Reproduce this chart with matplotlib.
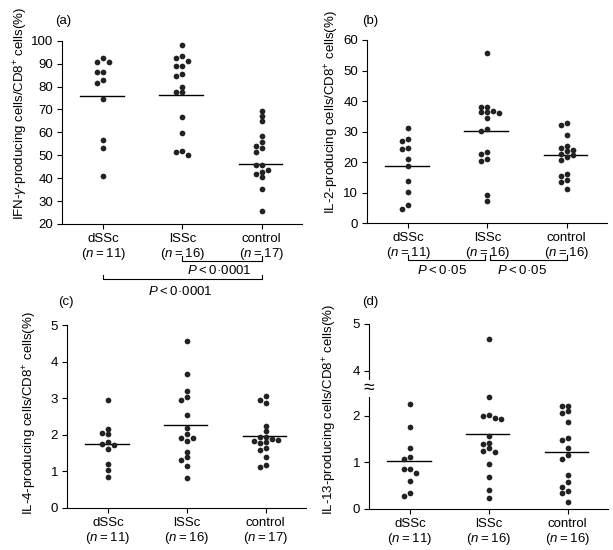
import matplotlib.pyplot as plt

plt.rcParams['font.family'] = ['Liberation Sans', 'DejaVu Sans']
plt.rcParams['mathtext.fontset'] = 'custom'
plt.rcParams['mathtext.rm'] = 'Liberation Sans'
plt.rcParams['mathtext.it'] = 'Liberation Sans:italic'
plt.rcParams['font.size'] = 9

groups = ['dSSc', 'lSSc', 'control']

# (a) IFN-gamma
ifn_dssc = [92.4, 90.8, 90.5, 86.5, 86.5, 82.7, 81.4, 74.5, 56.8, 53.2, 41.1]
ifn_lssc = [98.1, 93.2, 92.4, 91.1, 89.1, 88.9, 85.6, 84.7, 79.9, 77.5, 77.5,
            66.8, 59.7, 52.0, 51.6, 50.0]
ifn_ctrl = [69.5, 67.0, 64.8, 58.3, 55.6, 54.0, 53.0, 51.6, 45.6, 45.6, 43.5,
            42.8, 41.7, 40.5, 35.3, 25.7]
ifn_median = [75.7, 76.1, 46.0]
ifn_n = [11, 16, 17]

# (b) IL-2
il2_dssc = [31.2, 27.6, 27.0, 24.7, 24.3, 21.1, 18.7, 13.9, 10.2, 5.9, 4.6]
il2_lssc = [55.8, 38.0, 38.0, 36.6, 36.3, 36.3, 36.1, 34.3, 30.8, 30.3, 23.3,
            22.7, 21.1, 20.4, 9.1, 7.3]
il2_ctrl = [32.9, 32.2, 28.8, 25.3, 24.6, 24.0, 23.6, 22.6, 22.2, 21.5, 20.7,
            16.2, 15.5, 14.1, 13.4, 11.3]
il2_median = [18.7, 30.1, 22.2]
il2_n = [11, 16, 16]

# (c) IL-4
il4_dssc = [2.94, 2.15, 2.05, 2.01, 1.80, 1.74, 1.71, 1.61, 1.21, 1.03, 0.86]
il4_lssc = [4.56, 3.67, 3.19, 3.04, 2.95, 2.53, 2.19, 2.01, 1.92, 1.92, 1.84,
            1.54, 1.40, 1.32, 1.15, 0.81]
il4_ctrl = [3.05, 2.94, 2.87, 2.25, 2.10, 1.95, 1.95, 1.89, 1.87, 1.82, 1.80,
            1.78, 1.63, 1.58, 1.38, 1.17, 1.11]
il4_median = [1.75, 2.26, 1.96]
il4_n = [11, 16, 17]

# (d) IL-13 (broken axis)
il13_dssc = [2.25, 1.76, 1.31, 1.12, 1.06, 0.86, 0.86, 0.77, 0.59, 0.33, 0.28]
il13_lssc = [4.68, 2.40, 2.01, 1.99, 1.96, 1.94, 1.57, 1.42, 1.40, 1.30, 1.25,
             1.22, 0.97, 0.68, 0.40, 0.24]
il13_ctrl = [2.22, 2.20, 2.11, 2.06, 1.87, 1.52, 1.47, 1.31, 1.15, 1.06, 0.73,
             0.57, 0.47, 0.38, 0.33, 0.14]
il13_median = [1.02, 1.60, 1.23]
il13_n = [11, 16, 16]

DOT = '#222222'
LANE = 0.076
XLIM = (0.48, 3.51)
TS = '\u2009'  # thin space


def swarm(values, gap):
    placed = []
    lanes = []
    for v in sorted(values, reverse=True):
        for lane in (0, -1, 1, 2, -2, 3, -3):
            if all(abs(v - pv) >= gap for pv, pl in placed if pl == lane):
                break
        placed.append((v, lane))
        lanes.append(lane)
    return sorted(values, reverse=True), lanes


def draw_group(ax, x, values, gap, upper=None, split=None):
    vals, lanes = swarm(values, gap)
    for v, lane in zip(vals, lanes):
        target = ax
        if upper is not None and v > split:
            target = upper
        target.scatter(x + LANE * lane, v, s=17, color=DOT, linewidths=0,
                       zorder=3, clip_on=False)


def draw_median(ax, x, m):
    ax.plot([x - 0.29, x + 0.26], [m, m], color='black', lw=1.0)


def style(ax, ns, ylim, yticks):
    for s in ('top', 'right'):
        ax.spines[s].set_visible(False)
    for s in ('left', 'bottom'):
        ax.spines[s].set_linewidth(0.8)
    ax.set_xlim(*XLIM)
    ax.set_ylim(*ylim)
    ax.set_yticks(yticks)
    ax.set_xticks([1, 2, 3])
    ax.set_xticklabels([f'{g}\n($n${TS}={TS}{n})' for g, n in zip(groups, ns)],
                       linespacing=1.1)
    ax.tick_params(direction='out', length=3.5, width=0.8, pad=3,
                   labelsize=9.5)


def bracket(ax, x0, x1, y, h):
    ax.plot([x0, x0, x1, x1], [y + h, y, y, y + h], color='black', lw=0.8,
            transform=ax.get_xaxis_transform(), clip_on=False)


def pixel_gap(ax_h_px, ylim, px=5.0):
    return px * (ylim[1] - ylim[0]) / ax_h_px


fig = plt.figure(figsize=(6.13, 5.5), dpi=100)
W, H = 613.0, 550.0


def rect(left, right, top, bottom):
    return [left / W, 1 - bottom / H, (right - left) / W, (bottom - top) / H]


panels = [
    (rect(62, 302, 40.7, 224), (ifn_dssc, ifn_lssc, ifn_ctrl), ifn_median,
     ifn_n, (20, 100), range(20, 101, 10),
     r'IFN-$\gamma$-producing cells/CD8$^{+}$ cells(%)', (-0.169, 0.606)),
    (rect(367, 607, 40, 223), (il2_dssc, il2_lssc, il2_ctrl), il2_median,
     il2_n, (0, 60), range(0, 61, 10),
     r'IL-2-producing cells/CD8$^{+}$ cells(%)', (-0.148, 0.607)),
    (rect(67, 306, 325, 508), (il4_dssc, il4_lssc, il4_ctrl), il4_median,
     il4_n, (0, 5), range(0, 6),
     r'IL-4-producing cells/CD8$^{+}$ cells(%)', (-0.155, 0.52)),
]

axes = []
for r, data, med, ns, ylim, yt, ylab, lc in panels:
    ax = fig.add_axes(r)
    style(ax, ns, ylim, list(yt))
    gap = pixel_gap(r[3] * H, ylim)
    for i, vals in enumerate(data):
        draw_group(ax, i + 1, vals, gap)
        draw_median(ax, i + 1, med[i])
    ax.set_ylabel(ylab, fontsize=9.5, va='center')
    ax.yaxis.set_label_coords(*lc)
    axes.append(ax)

ax_a, ax_b, ax_c = axes

# (d) broken axis: lower 0-2.59, upper 3.62-5
lo_lim = (0, 2.59)
hi_lim = (3.62, 5)
r_lo = rect(369, 608, 388.3, 508.7)
r_hi = rect(369, 608, 324, 388.3)
ax_d = fig.add_axes(r_lo)
ax_dh = fig.add_axes(r_hi)
style(ax_d, il13_n, lo_lim, [0, 1, 2])
ax_d.spines['top'].set_visible(False)
for s in ('top', 'right', 'bottom'):
    ax_dh.spines[s].set_visible(False)
ax_dh.spines['left'].set_linewidth(0.8)
ax_dh.set_xlim(*XLIM)
ax_dh.set_ylim(*hi_lim)
ax_dh.set_yticks([4, 5])
ax_dh.set_xticks([])
ax_dh.tick_params(direction='out', length=3.5, width=0.8, pad=3,
                  labelsize=9.5)
ax_dh.patch.set_visible(False)
gap_d = pixel_gap(r_lo[3] * H, lo_lim)
for i, vals in enumerate((il13_dssc, il13_lssc, il13_ctrl)):
    draw_group(ax_d, i + 1, vals, gap_d, upper=ax_dh, split=3.0)
    draw_median(ax_d, i + 1, il13_median[i])
ax_d.set_ylabel(r'IL-13-producing cells/CD8$^{+}$ cells(%)', fontsize=9.5,
                va='center')
ax_d.yaxis.set_label_coords(-0.165, 0.82)
fig.text(369 / W, 1 - 388.3 / H, '\u2248', ha='center', va='center',
         fontsize=14, bbox=dict(facecolor='white', edgecolor='none', pad=0))

# significance brackets
p1 = f'$P${TS}<{TS}0·0001'
p2 = f'$P${TS}<{TS}0·05'
bracket(ax_a, 2, 3, -0.202, 0.027)
ax_a.text(2.46, -0.252, p1, ha='center', va='center',
          fontsize=9.5, transform=ax_a.get_xaxis_transform())
bracket(ax_a, 1, 3, -0.300, 0.022)
ax_a.text(1.97, -0.366, p1, ha='center', va='center',
          fontsize=9.5, transform=ax_a.get_xaxis_transform())

bracket(ax_b, 1, 1.97, -0.202, 0.027)
bracket(ax_b, 2.03, 3, -0.202, 0.027)
ax_b.text(1.43, -0.262, p2, ha='center', va='center',
          fontsize=9.5, transform=ax_b.get_xaxis_transform())
ax_b.text(2.43, -0.262, p2, ha='center', va='center',
          fontsize=9.5, transform=ax_b.get_xaxis_transform())

# panel letters
for lab, x, y in (('(a)', 55, 21), ('(b)', 362, 21), ('(c)', 58, 302),
                  ('(d)', 362, 302)):
    fig.text(x / W, 1 - y / H, lab, ha='left', va='center', fontsize=9.5)

fig.savefig('out.png', dpi=100)
